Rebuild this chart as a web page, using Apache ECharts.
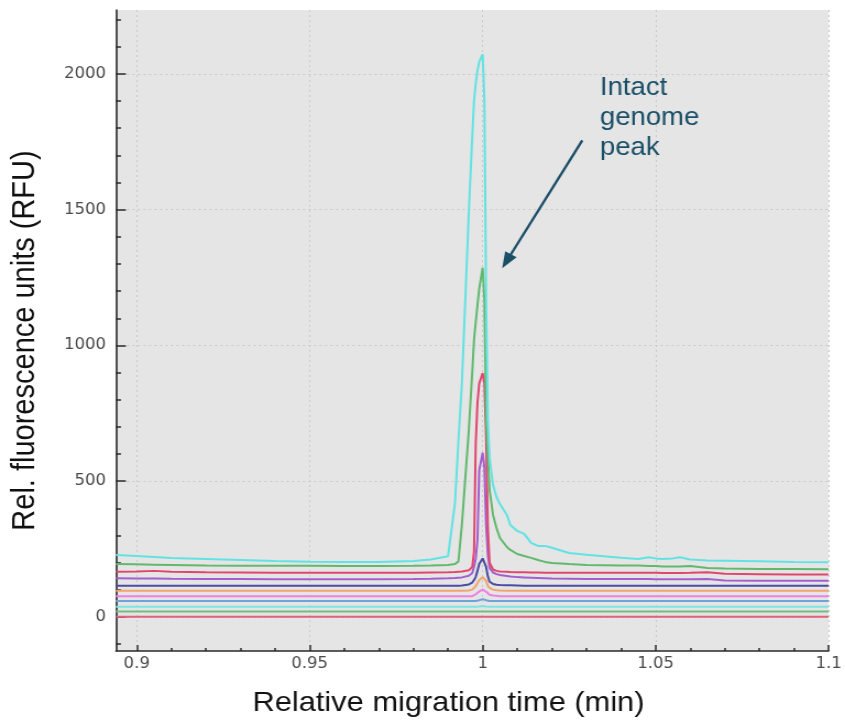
<!DOCTYPE html>
<html>
<head>
<meta charset="utf-8">
<title>Relative migration time</title>
<script src="https://cdn.jsdelivr.net/npm/echarts@6/dist/echarts.min.js"></script>
<style>
  html, body { margin: 0; padding: 0; background: #ffffff; overflow: hidden; }
  /* the plot is laid out narrower and widened horizontally, giving the stretched glyphs */
  #chart { width: 768px; height: 721px; transform: scaleX(1.10026); transform-origin: 0 0; }
</style>
</head>
<body>
<div id="chart"></div>
<script>
// ---- data -------------------------------------------------------------
// migration time (min) shared by every electropherogram trace
const migrationTime = [
  0.894, 0.9, 0.905, 0.91, 0.92, 0.93, 0.94, 0.95, 0.96, 0.97,
  0.98, 0.985, 0.99, 0.992, 0.993, 0.994, 0.996, 0.997, 0.9975, 0.998,
  0.9985, 0.999, 1.0, 1.0005, 1.001, 1.0015, 1.002, 1.003, 1.004, 1.005,
  1.007, 1.008, 1.01, 1.012, 1.014, 1.016, 1.018, 1.02, 1.025, 1.03,
  1.04, 1.045, 1.048, 1.05, 1.052, 1.055, 1.057, 1.06, 1.065, 1.07,
  1.08, 1.09, 1.1
];

// fluorescence (RFU) of each trace, one value per migration time
const trace1 = [228, 225, 221, 217, 214, 210, 206, 204, 203, 203,
  206, 212, 224, 420, 650, 860, 1490, 1770, 1900, 1965,
  2012, 2044, 2072, 1904, 1167, 726, 586, 486, 442, 416,
  376, 339, 317, 306, 273, 262, 262, 255, 236, 229,
  218, 214, 220, 216, 214, 216, 220, 212, 208, 207,
  205, 203, 202];
const trace2 = [195, 194, 193, 192, 190, 189, 189, 189, 188, 188,
  189, 190, 192, 195, 205, 340, 689, 902, 1020, 1086,
  1149, 1208, 1286, 1168, 726, 597, 468, 376, 328, 291,
  258, 247, 232, 225, 218, 210, 203, 199, 195, 192,
  190, 190, 188, 188, 186, 186, 186, 188, 181, 179,
  177, 177, 176];
const trace3 = [167, 168, 170, 167, 165, 164, 163, 163, 163, 163,
  163, 164, 165, 166, 167, 168, 172, 185, 240, 640,
  790, 860, 898, 860, 660, 330, 200, 175, 170, 168,
  167, 166, 165, 165, 164, 164, 163, 163, 163, 163,
  163, 163, 163, 163, 162, 162, 162, 163, 165, 159,
  158, 157, 157];
const trace4 = [143, 142, 142, 141, 140, 140, 139, 139, 139, 139,
  140, 141, 143, 144, 145, 146, 152, 162, 185, 215,
  285, 540, 605, 550, 340, 230, 180, 164, 158, 155,
  151, 149, 147, 146, 145, 144, 143, 142, 141, 140,
  140, 140, 140, 139, 139, 139, 139, 139, 140, 135,
  134, 134, 134];
const trace5 = [115, 115, 115, 115, 115, 115, 115, 115, 115, 115,
  115, 115, 115, 115, 115, 116, 120, 127, 136, 148,
  170, 195, 216, 210, 185, 150, 130, 122, 119, 118,
  117, 117, 116, 115, 115, 115, 115, 115, 115, 115,
  115, 115, 115, 115, 115, 115, 115, 115, 115, 115,
  115, 115, 115];
const trace6 = [97, 97, 97, 97, 97, 97, 97, 97, 97, 97,
  97, 97, 97, 97, 97, 97, 98, 101, 106, 114,
  125, 136, 147, 145, 133, 115, 107, 101, 99, 98,
  97, 97, 97, 97, 97, 97, 97, 97, 97, 97,
  97, 97, 97, 97, 97, 97, 97, 97, 97, 97,
  97, 97, 97];
const trace7 = [77, 77, 77, 77, 77, 77, 77, 77, 77, 77,
  77, 77, 77, 77, 77, 77, 77, 77, 79, 84,
  89, 94, 101, 99, 93, 86, 82, 79, 78, 77,
  77, 77, 77, 77, 77, 77, 77, 77, 77, 77,
  77, 77, 77, 77, 77, 77, 77, 77, 77, 77,
  77, 77, 77];
const trace8 = [59, 59, 59, 59, 59, 59, 59, 59, 59, 59,
  59, 59, 59, 59, 59, 59, 59, 59, 59, 59,
  60, 62, 66, 65, 62, 60, 59, 59, 59, 59,
  59, 59, 59, 59, 59, 59, 59, 59, 59, 59,
  59, 59, 59, 59, 59, 59, 59, 59, 59, 59,
  59, 59, 59];
const trace9 = [38, 38, 38, 38, 38, 38, 38, 38, 38, 38,
  38, 38, 38, 38, 38, 38, 38, 38, 38, 38,
  38, 39, 41, 40, 39, 38, 38, 38, 38, 38,
  38, 38, 38, 38, 38, 38, 38, 38, 38, 38,
  38, 38, 38, 38, 38, 38, 38, 38, 38, 38,
  38, 38, 38];
const trace10 = [20, 20, 20, 20, 20, 20, 20, 20, 20, 20,
  20, 20, 20, 20, 20, 20, 20, 20, 20, 20,
  20, 20, 20, 20, 20, 20, 20, 20, 20, 20,
  20, 20, 20, 20, 20, 20, 20, 20, 20, 20,
  20, 20, 20, 20, 20, 20, 20, 20, 20, 20,
  20, 20, 20];
const trace11 = [1, 1, 1, 1, 1, 1, 1, 1, 1, 1,
  1, 1, 1, 1, 1, 1, 1, 1, 1, 1,
  1, 1, 1, 1, 1, 1, 1, 1, 1, 1,
  1, 1, 1, 1, 1, 1, 1, 1, 1, 1,
  1, 1, 1, 1, 1, 1, 1, 1, 1, 1,
  1, 1, 1];

// axis ticks
const xMajorTicks = [0.9, 0.95, 1, 1.05, 1.1];
const yMajorTicks = [0, 500, 1000, 1500, 2000];
const xMinorTicks = [];
for (let k = 0; k <= 20; k++) xMinorTicks.push(+(0.9 + k * 0.01).toFixed(2));
const yMinorTicks = [];
for (let v = -100; v <= 2200; v += 100) yMinorTicks.push(v);

// ---- styling ----------------------------------------------------------
const traces = [trace1, trace2, trace3, trace4, trace5, trace6, trace7, trace8, trace9, trace10, trace11];
const traceColors = ['#62e3e3', '#62b96e', '#e0476f', '#a45fcf', '#4b4ba3', '#f2a46c',
                     '#ef7fe5', '#6da3d6', '#7de3e3', '#6fbf80', '#e2617d'];
const axisColor = '#2a2a2a';
const labelStyle = { color: '#4a4a4a', fontFamily: 'DejaVu Sans', fontSize: 15, formatter: v => String(v) };
const gridLines = { show: true, lineStyle: { color: '#c9c9c9', width: 1, type: [2, 3] } };
const noteColor = '#1b4f68';

// annotation anchors in data coordinates
const arrowTail = [1.0288, 1755];
const arrowHead = [1.0069, 1310];
const noteAnchor = [1.0339, 1836];

const X_MIN = 0.894, X_MAX = 1.1, Y_MIN = -125, Y_MAX = 2235;

const chart = echarts.init(document.getElementById('chart'), null, { renderer: 'canvas' });

const series = traces.map((vals, i) => ({
  name: 'trace' + (i + 1),
  type: 'line',
  xAxisIndex: 0,
  yAxisIndex: 0,
  data: migrationTime.map((t, j) => [t, vals[j]]),
  showSymbol: false,
  symbol: 'none',
  silent: true,
  lineStyle: { color: traceColors[i], width: 2 },
  z: 2 + (traces.length - i) / 100
}));

// arrow pointing at the main peak
series[0].markLine = {
  silent: true,
  animation: false,
  symbol: ['none', 'triangle'],
  symbolSize: [12, 16],
  label: { show: false },
  lineStyle: { color: noteColor, width: 2.3, type: 'solid' },
  itemStyle: { color: noteColor },
  data: [[{ coord: arrowTail }, { coord: arrowHead }]]
};

chart.setOption({
  animation: false,
  backgroundColor: '#ffffff',
  grid: { left: 105.4, right: 14.5, top: 10, bottom: 70, show: true, backgroundColor: '#e5e5e5', borderWidth: 0 },
  xAxis: [
    {
      type: 'value', min: X_MIN, max: X_MAX, position: 'bottom',
      axisLine: { onZero: false, lineStyle: { color: axisColor, width: 1.6 } },
      axisTick: { customValues: xMajorTicks, inside: true, length: 6, lineStyle: { color: axisColor, width: 1.5 } },
      axisLabel: Object.assign({ customValues: xMajorTicks, margin: 6 }, labelStyle),
      splitLine: gridLines
    },
    {
      type: 'value', min: X_MIN, max: X_MAX, position: 'bottom',
      axisLine: { show: false, onZero: false },
      axisTick: { customValues: xMinorTicks, inside: true, length: 3, lineStyle: { color: axisColor, width: 1.5 } },
      axisLabel: { show: false },
      splitLine: { show: false }
    }
  ],
  yAxis: [
    {
      type: 'value', min: Y_MIN, max: Y_MAX, position: 'left',
      axisLine: { show: true, onZero: false, lineStyle: { color: axisColor, width: 1.6 } },
      axisTick: { show: true, customValues: yMajorTicks, inside: true, length: 9, lineStyle: { color: axisColor, width: 1.5 } },
      axisLabel: Object.assign({ customValues: yMajorTicks, margin: 9 }, labelStyle),
      splitLine: gridLines
    },
    {
      type: 'value', min: Y_MIN, max: Y_MAX, position: 'left',
      axisLine: { show: false, onZero: false },
      axisTick: { show: true, customValues: yMinorTicks, inside: true, length: 4.5, lineStyle: { color: axisColor, width: 1.5 } },
      axisLabel: { show: false },
      splitLine: { show: false }
    }
  ],
  series: series
});

// axis titles and the peak note
const notePos = chart.convertToPixel({ xAxisIndex: 0, yAxisIndex: 0 }, noteAnchor);
chart.setOption({
  graphic: [
    {
      type: 'text', x: 22.7, y: 340.5, rotation: Math.PI / 2, silent: true,
      style: { text: 'Rel. fluorescence units (RFU)', fill: '#111111', fontFamily: 'Liberation Sans, Arial, sans-serif',
               fontSize: 29, align: 'center', verticalAlign: 'middle' }
    },
    {
      type: 'text', x: 407.6, y: 703, silent: true,
      style: { text: 'Relative migration time (min)', fill: '#111111', fontFamily: 'Liberation Sans, Arial, sans-serif',
               fontSize: 28, align: 'center', verticalAlign: 'middle' }
    },
    {
      type: 'text', x: notePos[0], y: notePos[1], silent: true, z: 10,
      style: { text: 'Intact\ngenome\npeak', fill: noteColor, fontFamily: 'Liberation Sans, Arial, sans-serif',
               fontSize: 25, lineHeight: 30, align: 'left', verticalAlign: 'middle' }
    }
  ]
});
</script>
</body>
</html>
